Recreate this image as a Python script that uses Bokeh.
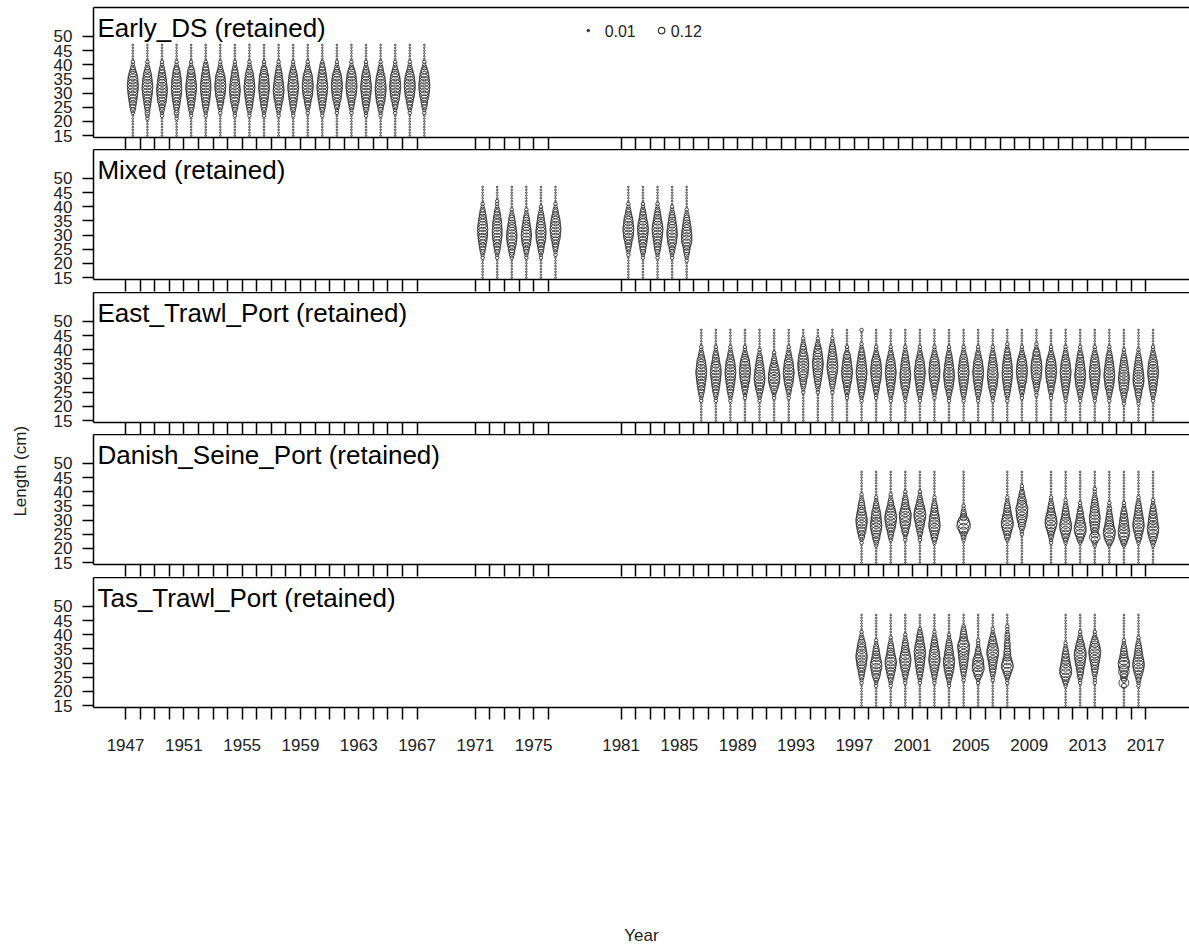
import math
from bokeh.plotting import figure
from bokeh.layouts import column, row
from bokeh.models import Range1d, FixedTicker, ColumnDataSource, Label, LinearAxis
from bokeh.embed import file_html
from bokeh.resources import INLINE
from bokeh.core.properties import value

# ---------------- data ----------------
# length bins (cm)
lengths = list(range(15, 48))

# composition levels per year: one hex char per length bin (15..47), level = proportion*100
early_years = list(range(1947, 1968))
early_comp = [
    "000000 0012 3456 789a a987 5321 1000 000",
    "000000 1122 3456 789a 9876 5321 1000 000",
    "000000 0112 3467 89a9 8765 4321 1000 000",
    "000000 1122 3456 7899 8876 5421 1000 000",
    "000000 0112 3456 789a 9876 5421 1000 000",
    "000000 0112 3456 7899 9876 5432 1000 000",
    "000000 0011 2345 789a a987 5321 1000 000",
    "000000 0112 3467 89a9 8765 4321 1000 000",
    "000000 0112 3456 789a 9876 5321 1000 000",
    "000000 0112 3456 789a 9887 5421 1000 000",
    "000000 0112 3457 89a9 8765 4321 1000 000",
    "000000 0112 3456 789a 9876 5321 1000 000",
    "000000 0011 2345 789a a987 5321 1000 000",
    "000000 0112 3456 789a 9876 5432 1000 000",
    "000000 0011 2346 789a a987 5321 1000 000",
    "000000 0011 2345 789a a987 6421 1000 000",
    "000000 0112 3456 789a 9876 5321 1000 000",
    "000000 0112 3467 89aa 9876 4321 1000 000",
    "000000 0011 2346 789a a987 5321 1000 000",
    "000000 0011 2345 789a a987 5321 1000 000",
    "000000 0011 2345 789a a987 6421 1000 000",
]

mixed_years = [1971, 1972, 1973, 1974, 1975, 1976, 1981, 1982, 1983, 1984, 1985]
mixed_comp = [
    "000000 0112 3456 7889 8765 4321 1000 000",
    "000000 0112 3456 7888 7765 4321 1100 000",
    "000000 0123 4578 9987 6543 2110 0000 000",
    "000000 0112 3467 8987 6543 2110 0000 000",
    "000000 0112 3457 8898 7654 3211 0000 000",
    "000000 0011 2345 789a 9876 4321 1000 000",
    "000000 0011 2345 789a 9876 4321 1000 000",
    "000000 0112 3456 789a 9865 4321 1000 000",
    "000000 0112 3456 789a 9865 4321 1000 000",
    "000000 0112 3467 8998 7654 3211 0000 000",
    "000000 1123 4579 9987 6543 2110 0000 000",
]

east_years = list(range(1986, 2018))
east_comp = [
    "000000 0112 3456 789a 9876 4321 1000 000",
    "000000 0112 3456 789a 9865 4321 1000 000",
    "000000 0112 3456 789a 9876 4321 1000 000",
    "000000 0011 2345 789a a987 5321 1000 000",
    "000000 0112 3568 9a98 7654 3211 0000 000",
    "000000 0011 2468 abb9 8643 2110 0000 000",
    "000000 0011 2346 789a 9876 4321 1000 000",
    "000000 0000 1123 4578 9aa9 8754 3211 000",
    "000000 0000 1123 4567 89a9 8765 3211 000",
    "000000 0000 1123 4568 9a98 7654 3211 000",
    "000000 0011 2345 789a 9876 5421 1000 000",
    "000000 0112 3456 789a 9876 5432 1100 001",
    "000000 0011 2345 789a a987 5321 1000 000",
    "000000 0112 3456 789a 9876 4321 1000 000",
    "000000 0112 3467 89a9 8765 4321 1000 000",
    "000000 0112 3456 789a 9876 4321 1000 000",
    "000000 0011 2345 789a a987 5321 1000 000",
    "000000 0112 3467 89a9 8765 4321 1000 000",
    "000000 0112 3456 789a 9876 5321 1000 000",
    "000000 0112 3456 789a 9876 4321 1000 000",
    "000000 0112 3467 89a9 8765 4321 1000 000",
    "000000 0112 3456 7899 8876 5432 1100 000",
    "000000 0011 2345 789a a987 5321 1000 000",
    "000000 0001 1234 5789 aa98 6542 1100 000",
    "000000 0011 2345 789a a987 5321 1000 000",
    "000000 0112 3456 789a 9876 4321 1000 000",
    "000000 0112 3467 89a9 8765 4321 1000 000",
    "000000 0112 3456 789a 9876 5321 1000 000",
    "000000 0112 3467 89a9 8765 4321 1000 000",
    "000000 1123 4678 9a98 7654 3211 0000 000",
    "000000 1123 4579 aa98 7654 3211 0000 000",
    "000000 0112 3456 789a 9876 4321 1000 000",
]

danish_years = [1997, 1998, 1999, 2000, 2001, 2002, 2004, 2007, 2008,
                2010, 2011, 2012, 2013, 2014, 2015, 2016, 2017]
danish_comp = [
    "000000 0113 4679 ab98 6543 2110 0000 000",
    "000000 1235 68ab a987 6432 1100 0000 000",
    "000000 0012 3468 9bca 8643 2110 0000 000",
    "000000 0011 2457 9abc 9754 3211 0000 000",
    "000000 0011 2346 79bc a864 3211 0000 000",
    "000000 0124 579b a986 5432 1100 0000 000",
    "000000 0012 369f d843 2110 0000 0000 000",
    "000000 0013 468b ca86 5432 1100 0000 000",
    "000000 0000 1124 579a bc97 6432 1100 000",
    "000000 0112 357a cb97 5432 1100 0000 000",
    "000000 0124 68bc a865 4321 1000 0000 000",
    "000000 0135 8bca 8654 3211 0000 0000 000",
    "000000 1249 5467 89a8 7654 3211 1000 000",
    "000000 1369 bc97 6543 2211 0000 0000 000",
    "000000 1358 ab98 7654 3211 0000 0000 000",
    "000000 0124 579b a976 5432 1100 0000 000",
    "000000 1246 8ab9 8765 4321 1000 0000 000",
]

tas_years = [1997, 1998, 1999, 2000, 2001, 2002, 2003, 2004, 2005, 2006, 2007,
             2011, 2012, 2013, 2015, 2016]
tas_comp = [
    "000000 0011 2345 789b a976 5321 1000 000",
    "000000 0112 4679 ba86 5432 1100 0000 000",
    "000000 0112 3568 9ba8 6543 2110 0000 000",
    "000000 0011 2346 89ba 8654 3211 0000 000",
    "000000 0011 2345 6789 ab98 6543 2100 000",
    "000000 0011 2346 79ba 9865 4321 1000 000",
    "000000 0112 3568 9ab8 7654 3211 0000 000",
    "000000 0001 1234 5678 9abc 9654 3210 000",
    "000000 0011 368c ba96 4321 1100 0000 000",
    "000000 0001 1234 5679 bca8 6532 1100 000",
    "000000 0011 2469 c975 4433 3222 1110 000",
    "000000 0124 6acb 9765 4321 1000 0000 000",
    "000000 0011 2345 689b cb87 5321 1000 000",
    "000000 0011 1234 5689 bca8 6421 1000 000",
    "000000 0282 4597 ab86 5432 1100 0000 000",
    "000000 0112 3579 bb97 6543 2110 0000 000",
]

fleet_titles = ["Early_DS (retained)", "Mixed (retained)", "East_Trawl_Port (retained)",
                "Danish_Seine_Port (retained)", "Tas_Trawl_Port (retained)"]
fleet_years = [early_years, mixed_years, east_years, danish_years, tas_years]
fleet_comps = [early_comp, mixed_comp, east_comp, danish_comp, tas_comp]

year_ticks = sorted(set(early_years + mixed_years + east_years + danish_years + tas_years))
year_labels = [1947, 1951, 1955, 1959, 1963, 1967, 1971, 1975, 1981, 1985, 1989,
               1993, 1997, 2001, 2005, 2009, 2013, 2017]
y_ticks = [15, 20, 25, 30, 35, 40, 45, 50]
legend_vals = [0.01, 0.12]

# ---------------- style ----------------
FONT = "Liberation Sans"
BUB = "#333333"
season_offset = 0.5
xr = Range1d(1944.8, 2020.0)


def bubble_source(years, comps):
    xs, ys, sz = [], [], []
    for yr, s in zip(years, comps):
        s = s.replace(" ", "").ljust(len(lengths), "0")[:len(lengths)]
        for L, ch in zip(lengths, s):
            prop = int(ch, 16) / 100.0
            xs.append(yr + season_offset)
            ys.append(L)
            sz.append(max(1.7, 35.0 * math.sqrt(prop)))
    return ColumnDataSource(dict(x=xs, y=ys, size=sz))


panels = []
tops = [7, 0, 0, 0, 0]
bottoms = [12, 13, 12, 13, 240]
for k in range(5):
    last = (k == 4)
    p = figure(frame_width=1096, frame_height=130, x_range=xr, y_range=Range1d(14.3, 60.25),
               output_backend="svg", toolbar_location=None,
               min_border_left=49, min_border_right=0, min_border_top=tops[k],
               min_border_bottom=bottoms[k])
    p.grid.visible = False
    p.outline_line_color = None
    p.background_fill_color = "white"
    p.border_fill_color = "white"

    # top edge of the box (right edge falls outside the page)
    top_ax = LinearAxis(ticker=FixedTicker(ticks=[]), axis_line_color="black",
                        axis_line_width=1.5, major_tick_out=0, major_tick_in=0,
                        minor_tick_out=0, minor_tick_in=0,
                        major_label_text_font_size="0px", major_label_standoff=0)
    p.add_layout(top_ax, "above")

    src = bubble_source(fleet_years[k], fleet_comps[k])
    p.scatter("x", "y", size="size", source=src, marker="circle",
              fill_color=None, line_color=BUB, line_width=1.0, line_alpha=0.9)

    p.text(x=[1945.07], y=[52.9], text=[fleet_titles[k]], text_font=value(FONT),
           text_font_size="26px", text_baseline="alphabetic", text_align="left", text_color="black")

    # y axis
    ya = p.yaxis[0]
    ya.ticker = FixedTicker(ticks=y_ticks)
    ya.minor_tick_line_color = None
    ya.major_tick_out = 11
    ya.major_tick_in = 0
    ya.major_tick_line_width = 1.5
    ya.major_tick_line_color = "black"
    ya.axis_line_color = "black"
    ya.axis_line_width = 1.5
    ya.major_label_standoff = 10
    ya.major_label_text_font = FONT
    ya.major_label_text_font_size = "17px"
    ya.major_label_text_color = "#222222"

    # x axis
    xa = p.below[0]
    xa.ticker = FixedTicker(ticks=year_ticks)
    xa.minor_tick_line_color = None
    xa.major_tick_in = 0
    xa.major_tick_out = 12
    xa.major_tick_line_width = 1.5
    xa.major_tick_line_color = "black"
    xa.axis_line_color = "black"
    xa.axis_line_width = 1.5
    if last:
        xa.major_label_overrides = {yv: ("" if yv not in year_labels else str(yv)) for yv in year_ticks}
        xa.major_label_text_font = FONT
        xa.major_label_text_font_size = "17px"
        xa.major_label_text_color = "#222222"
        xa.major_label_standoff = 19
        xa.axis_label = "Year"
        xa.axis_label_standoff = 172
        xa.axis_label_text_font = FONT
        xa.axis_label_text_font_size = "17px"
        xa.axis_label_text_font_style = "normal"
        xa.axis_label_text_color = "#222222"
    else:
        xa.major_label_overrides = {yv: "" for yv in year_ticks}
        xa.major_label_text_font_size = "0px"
        xa.major_label_standoff = 0

    if k == 0:
        p.scatter(x=[1978.75], y=[52.1], size=2.5, marker="circle",
                  fill_color=BUB, line_color=BUB)
        p.scatter(x=[1983.78], y=[52.1], size=6.5, marker="circle",
                  fill_color=None, line_color=BUB, line_width=1.2)
        p.text(x=[1979.87, 1984.4], y=[52.1, 52.1],
               text=[f"{legend_vals[0]:.2f}", f"{legend_vals[1]:.2f}"],
               text_font=value(FONT), text_font_size="16px", text_baseline="middle",
               text_align="left", text_color="#222222")
    panels.append(p)

lab = figure(width=44, height=951, x_range=Range1d(0, 1), y_range=Range1d(0, 1),
             output_backend="svg", toolbar_location=None, min_border=0)
lab.axis.visible = False
lab.grid.visible = False
lab.outline_line_color = None
lab.add_layout(Label(x=0.455, y=0.505, text="Length (cm)", angle=math.pi / 2,
                     text_align="center", text_baseline="middle", text_font=FONT,
                     text_font_size="17px", text_color="#222222"))

layout = row(lab, column(*panels, spacing=0), spacing=0)
open("out.html", "w").write(file_html(layout, INLINE))
